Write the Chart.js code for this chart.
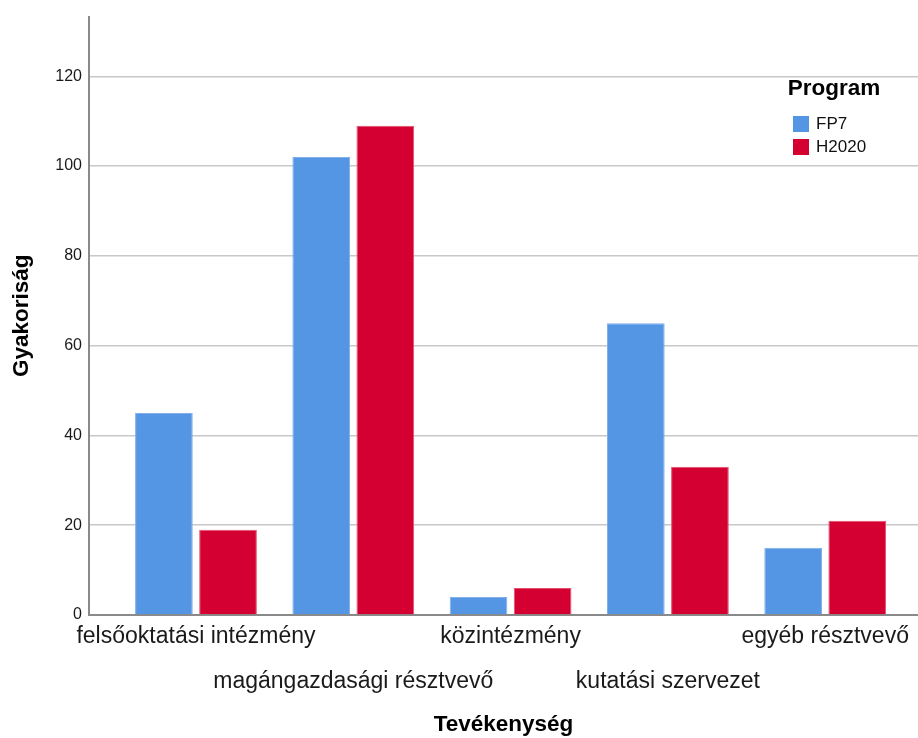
<!DOCTYPE html>
<html>
<head>
<meta charset="utf-8">
<script src="https://cdn.jsdelivr.net/npm/chart.js@4.4.1/dist/chart.umd.min.js"></script>
<style>
  html, body { margin: 0; padding: 0; background: #fff; }
  #wrap { width: 918px; height: 738px; }
</style>
</head>
<body>
<div id="wrap"><canvas id="tevekenysegChart"></canvas></div>
<script>
const categories = ['felsőoktatási intézmény', 'magángazdasági résztvevő', 'közintézmény', 'kutatási szervezet', 'egyéb résztvevő'];
const fp7 = [45, 102, 4, 65, 15];
const h2020 = [19, 109, 6, 33, 21];
const yTicks = [0, 20, 40, 60, 80, 100, 120];

const FONT = "'Liberation Sans', Arial, sans-serif";

// legend drawn inside the plot, top right (SPSS style)
const innerLegend = {
  id: 'innerLegend',
  afterDraw(chart) {
    const ctx = chart.ctx;
    ctx.save();
    ctx.fillStyle = '#000';
    ctx.font = 'bold 22.5px ' + FONT;
    ctx.textAlign = 'center';
    ctx.textBaseline = 'middle';
    ctx.fillText('Program', 834, 89);
    ctx.font = '17px ' + FONT;
    ctx.textAlign = 'left';
    chart.data.datasets.forEach((ds, i) => {
      const y = 124 + i * 23;
      ctx.fillStyle = ds.backgroundColor;
      ctx.fillRect(793, y - 8, 16, 16);
      ctx.fillStyle = '#111';
      ctx.fillText(ds.label, 816, y);
    });
    ctx.restore();
  }
};

const ctx = document.getElementById('tevekenysegChart').getContext('2d');
new Chart(ctx, {
  type: 'bar',
  data: {
    datasets: [{
      label: 'FP7',
      data: fp7.map((v, i) => ({ x: i, y: v })),
      backgroundColor: '#5596E4',
      borderColor: '#7fb0ec',
      borderWidth: 1,
    }, {
      label: 'H2020',
      data: h2020.map((v, i) => ({ x: i, y: v })),
      backgroundColor: '#D50032',
      borderColor: '#e2506f',
      borderWidth: 1,
    }]
  },
  options: {
    responsive: true,
    maintainAspectRatio: false,
    animation: false,
    categoryPercentage: 0.815,
    barPercentage: 0.9,
    layout: { padding: { top: 15, right: 0, bottom: 0, left: 0 } },
    plugins: {
      legend: { display: false },
      tooltip: { enabled: false }
    },
    scales: {
      x: {
        type: 'linear',
        offset: false,
        min: -0.68,
        max: 4.59,
        afterBuildTicks: (scale) => {
          scale.ticks = categories.map((_, i) => ({ value: i }));
        },
        afterFit: (scale) => {
          scale.height = 123;
          scale.paddingLeft = 0;
          scale.paddingRight = 0;
        },
        grid: { display: false, drawTicks: false, offset: false },
        border: { display: true, color: '#8a8a8a', width: 2 },
        ticks: {
          padding: 0,
          maxRotation: 0,
          autoSkip: false,
          color: '#1a1a1a',
          font: { family: FONT, size: 23, lineHeight: 1.92 },
          callback: (value) => {
            const label = categories[value];
            return value % 2 === 1 ? ['', label] : label;
          }
        },
        title: {
          display: true,
          text: 'Tevékenység',
          color: '#000',
          font: { family: FONT, size: 22.5, weight: 'bold' },
          padding: { top: 0, bottom: 0 }
        }
      },
      y: {
        min: 0,
        max: 133.3,
        afterBuildTicks: (scale) => {
          scale.ticks = yTicks.map(v => ({ value: v }));
        },
        afterFit: (scale) => {
          scale.width = 89;
        },
        grid: {
          drawTicks: false,
          color: (c) => c.tick && c.tick.value === 0 ? '#8a8a8a' : '#c8c8c8',
          lineWidth: 1.5
        },
        border: { display: true, color: '#8a8a8a', width: 2 },
        ticks: {
          padding: 7,
          color: '#1a1a1a',
          font: { family: FONT, size: 16 }
        },
        title: {
          display: true,
          text: 'Gyakoriság',
          color: '#000',
          font: { family: FONT, size: 22.5, weight: 'bold' },
          padding: { top: 8, bottom: 0 }
        }
      }
    }
  },
  plugins: [innerLegend]
});
</script>
</body>
</html>
